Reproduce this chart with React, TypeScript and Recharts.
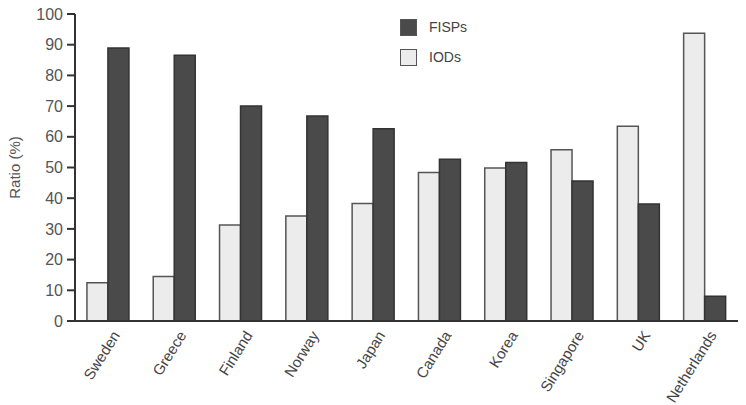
import { BarChart, Bar, XAxis, YAxis } from "recharts";

const countries = ["Sweden", "Greece", "Finland", "Norway", "Japan", "Canada", "Korea", "Singapore", "UK", "Netherlands"];
const iods = [12.5, 14.5, 31.3, 34.2, 38.3, 48.4, 49.8, 55.8, 63.4, 93.7];
const fisps = [88.9, 86.6, 70, 66.8, 62.6, 52.7, 51.6, 45.6, 38.1, 8.1];
const yTicks = [0, 10, 20, 30, 40, 50, 60, 70, 80, 90, 100];
const legendItems = ["FISPs", "IODs"];

const data = countries.map((name, i) => ({ name, IODs: iods[i], FISPs: fisps[i] }));

const DARK = "#4a4a4a";
const LIGHT = "#ececec";

function XTick(props: any) {
  const { x, y, payload } = props;
  return (
    <g transform={`translate(${x + 9},${y + 4})`}>
      <text textAnchor="end" transform="rotate(-58)" fontSize={15} fill="#444" dy={4}>
        {payload.value}
      </text>
    </g>
  );
}

export default function App() {
  return (
    <div style={{ position: "absolute", left: 0, top: 0, width: 746, height: 405, background: "#fff", fontFamily: "Liberation Sans, Arial, sans-serif" }}>
      <BarChart width={746} height={405} data={data} margin={{ top: 14, right: 8, bottom: 54, left: 0 }} barCategoryGap="18%" barGap={0}>
        <XAxis dataKey="name" tick={<XTick />} tickLine={false} axisLine={{ stroke: "#333", strokeWidth: 2 }} interval={0} />
        <YAxis
          domain={[0, 100]}
          ticks={yTicks}
          interval={0}
          width={75}
          tickSize={8}
          tickMargin={4}
          axisLine={{ stroke: "#333", strokeWidth: 2 }}
          tickLine={{ stroke: "#333", strokeWidth: 2 }}
          tick={{ fontSize: 16, fill: "#555" }}
          label={{ value: "Ratio (%)", angle: -90, position: "insideLeft", offset: 15, style: { fontSize: 15, fill: "#555", textAnchor: "middle" } }}
        />
        <Bar dataKey="IODs" fill={LIGHT} stroke="#555" strokeWidth={1.5} isAnimationActive={false} />
        <Bar dataKey="FISPs" fill={DARK} stroke="#333" strokeWidth={1.5} isAnimationActive={false} />
      </BarChart>
      <div style={{ position: "absolute", left: 400, top: 12, fontSize: 14, color: "#444" }}>
        {legendItems.map((label) => (
          <div key={label} style={{ display: "flex", alignItems: "center", height: 30 }}>
            <span style={{ width: 17, height: 17, background: label === "FISPs" ? DARK : LIGHT, border: "1.5px solid #555", boxSizing: "border-box", marginRight: 12 }} />
            {label}
          </div>
        ))}
      </div>
    </div>
  );
}
